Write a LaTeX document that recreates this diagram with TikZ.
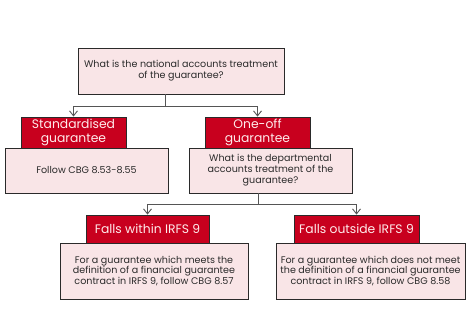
\documentclass[tikz,border=0pt]{standalone}
\usepackage{fontspec}
\setmainfont{Poppins}
\usetikzlibrary{arrows.meta}
\definecolor{redfill}{HTML}{C8001E}
\definecolor{pinkfill}{HTML}{F9E5E7}
\definecolor{linegray}{HTML}{555555}
\definecolor{txt}{HTML}{2A2A2A}
\tikzset{
  qbox/.style={draw=txt, line width=0.9bp, fill=pinkfill, text=txt, align=center, font=\fontsize{9.6}{11}\selectfont, inner sep=1bp},
  hbox/.style={draw=txt, line width=0.9bp, fill=redfill, text=white!92!red, align=center, font=\fontsize{12.4}{13.3}\selectfont, inner sep=1bp},
  conn/.style={draw=linegray, line width=0.9bp},
  arr/.style={conn, -{Straight Barb[length=5bp,width=8bp]}},
}
\begin{document}
\begin{tikzpicture}[x=1bp,y=-1bp]
\useasboundingbox (0,0) rectangle (474,316);
\node[qbox, minimum width=206bp, minimum height=46bp] (top) at (181,71) {What is the national accounts treatment\\of the guarantee?};
\node[qbox, minimum width=163bp, minimum height=45bp] (follow) at (86.5,170.5) {Follow CBG 8.53-8.55};
\node[qbox, minimum width=163bp, minimum height=45bp] (dept) at (270.5,170.5) {What is the departmental\\accounts treatment of the\\guarantee?};
\node[hbox, minimum width=105bp, minimum height=31bp] (std) at (73.5,132.5) {Standardised\\guarantee};
\node[hbox, minimum width=105bp, minimum height=31bp] (one) at (257.5,132.5) {One-off\\guarantee};
\node[qbox, minimum width=188bp, minimum height=56bp] (within) at (154,271) {For a guarantee which meets the\\definition of a financial guarantee\\contract in IRFS 9, follow CBG 8.57};
\node[qbox, minimum width=189bp, minimum height=56bp] (outside) at (370.5,271) {For a guarantee which does not meet\\the definition of a financial guarantee\\contract in IRFS 9, follow CBG 8.58};
\node[hbox, minimum width=123bp, minimum height=28bp] (fwithin) at (147.5,229) {Falls within IRFS 9};
\node[hbox, minimum width=125bp, minimum height=28bp] (foutside) at (356.5,229) {Falls outside IRFS 9};
\coordinate (j1) at (165.5,106);
\coordinate (j2) at (258,204);
\draw[conn] (top.south -| j1) -- (j1);
\draw[arr] (j1) -| (std.north);
\draw[arr] (j1) -| (one.north);
\draw[conn] (dept.south -| j2) -- (j2);
\draw[arr] (j2) -| (fwithin.north);
\draw[arr] (j2) -| (foutside.north);
\end{tikzpicture}
\end{document}
